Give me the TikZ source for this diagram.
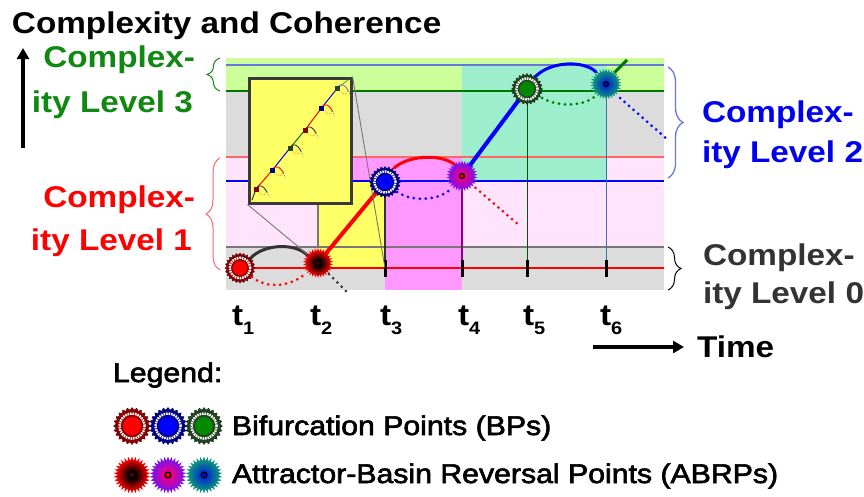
\documentclass[tikz,border=0pt]{standalone}
\usepackage{fontspec}
\setmainfont{Liberation Sans}
\newfontfamily\legfont{Liberation Sans}[FakeBold=2.2]
\usetikzlibrary{shapes.geometric,decorations.pathreplacing,arrows.meta}
\definecolor{lgreen}{HTML}{CCFF99}
\definecolor{mint}{HTML}{9CEECC}
\definecolor{lgray}{HTML}{DCDCDC}
\definecolor{lpink}{HTML}{FFE4FC}
\definecolor{magen}{HTML}{FF99FF}
\definecolor{yel}{HTML}{FFFF66}
\definecolor{dgreen}{HTML}{007700}
\definecolor{tgreen}{HTML}{118811}
\definecolor{tblue}{HTML}{0000EE}
\definecolor{tgray}{HTML}{333333}
\definecolor{lineblue}{HTML}{6677DD}
\definecolor{linered}{HTML}{FF6666}
\definecolor{linegray}{HTML}{777777}
\definecolor{arcgray}{HTML}{333333}
\definecolor{insetframe}{HTML}{3A3A3A}
\definecolor{vpurple}{HTML}{880088}
\definecolor{vgreen}{HTML}{005500}
\definecolor{vteal}{HTML}{3377AA}
\definecolor{bpdred}{HTML}{880000}
\definecolor{bpdblue}{HTML}{000088}
\definecolor{bpdgreen}{HTML}{224422}
\definecolor{bpgreen}{HTML}{008800}
\definecolor{abviolet}{HTML}{7711EE}
\definecolor{abmag}{HTML}{EE0088}
\definecolor{abteal}{HTML}{119977}
\definecolor{abblue}{HTML}{0033CC}
\definecolor{abdred}{HTML}{550000}
\colorlet{abin}{black}
\colorlet{about}{red}
\pgfdeclareradialshading[abin,about]{abshade}{\pgfpoint{0bp}{0bp}}{color(0bp)=(abin); color(5bp)=(abin); color(22bp)=(about); color(40bp)=(about); color(50bp)=(white); color(72bp)=(white)}
\newcommand{\bigtx}[1]{\scalebox{1.11}[1]{\fontsize{30}{30}\selectfont\bfseries #1}}
\newcommand{\subtx}[1]{\raisebox{-9pt}{\scalebox{1.11}[1]{\fontsize{18}{18}\selectfont\bfseries #1}}}
\newcommand{\legtx}[1]{\scalebox{1.12}[1]{\fontsize{27}{27}\legfont #1}}
\begin{document}
\begin{tikzpicture}[x=1pt,y=-1pt,
  txt/.style={inner sep=0pt, outer sep=0pt},
  bp/.style n args={3}{shape=star, star points=24, star point ratio=1.16, minimum size=#1pt, inner sep=0pt, fill=#2, draw=#2!60!black, line width=0.4pt,
     path picture={\draw[white, line width=2.4pt, dash pattern=on 1.6pt off 0.9pt] (path picture bounding box.center) circle[radius=0.34*#1pt];
                   \fill[#3, draw=#2, line width=0.8pt] (path picture bounding box.center) circle[radius=0.26*#1pt];}},
  abrp/.style n args={4}{shape=star, star points=30, star point ratio=1.3, minimum size=#1pt, inner sep=0pt,
     /utils/exec={\colorlet{abin}{#2}\colorlet{about}{#3}}, shading=abshade, shade,
     path picture={\fill[#4, draw=black, line width=1.3pt] (path picture bounding box.center) circle[radius=0.08*#1pt];}},
  solidarc/.style={line width=3pt, line cap=round},
  dotarc/.style={line width=3pt, line cap=round, dash pattern=on 0pt off 6pt},
  tick/.style={line width=3pt, black},
  brc/.style={decorate, decoration={brace, amplitude=#1}, line width=1pt},
]
\useasboundingbox (0,0) rectangle (864,496);
% backgrounds
\fill[lgray] (226,58) rectangle (664,290);
\fill[lgreen] (226,58) rectangle (664,91);
\fill[lpink] (226,157) rectangle (664,247);
\fill[magen] (318,157) rectangle (462,182);
\fill[magen] (385,182) rectangle (462,290);
\fill[yel] (318,182) rectangle (385,268);
\fill[mint] (462,65) rectangle (606,181);
% level lines
\draw[lineblue, line width=2pt] (226,65) -- (664,65);
\draw[dgreen, line width=2.5pt] (226,91) -- (664,91);
\draw[linered, line width=2pt] (226,157) -- (664,157);
\draw[blue, line width=2pt] (226,181) -- (664,181);
\draw[linegray, line width=2.5pt] (226,247) -- (664,247);
\draw[red, line width=2.5pt] (226,268) -- (664,268);
\draw[linegray, line width=1.5pt] (318,182) -- (318,247);
% point positions
\coordinate (P1) at (240,268);
\coordinate (P2) at (318,263);
\coordinate (P3) at (385,182);
\coordinate (P4) at (462,176);
\coordinate (P5) at (527,89);
\coordinate (P6) at (606,84);
\coordinate (B3) at (385,268);
\coordinate (B4) at (462,268);
\coordinate (B5) at (527,268);
\coordinate (B6) at (606,268);
% vertical drop lines and ticks
\draw[arcgray, line width=2pt] (P3) -- (B3);
\draw[vpurple, line width=2pt] (P4) -- (B4);
\draw[vgreen, line width=1pt] (P5) -- (B5);
\draw[vteal, line width=1pt] (P6) -- (B6);
\foreach \b in {B3,B4,B5,B6} \draw[tick] (\b) ++(0,-8) -- ++(0,17);
% trajectories
\draw[solidarc, arcgray] (250,259) .. controls (262,244) and (296,242) .. (308,256);
\draw[dotarc, red] (252,277) .. controls (268,290) and (292,286) .. (306,273);
\draw[dotarc, arcgray] (329,274) -- (346,291);
\draw[line width=4pt, red] (P2) -- (P3);
\draw[solidarc, red] (394,168) .. controls (410,154) and (445,154) .. (456,166);
\draw[dotarc, blue] (397,192) .. controls (415,203) and (440,200) .. (452,188);
\draw[line width=4pt, blue] (P4) -- (P5);
\draw[dotarc, red] (471,184) -- (520,226);
\draw[solidarc, blue] (535,77) .. controls (550,61) and (584,60) .. (596,72);
\draw[dotarc, dgreen] (542,98) .. controls (560,108) and (585,106) .. (597,95);
\draw[line width=3pt, dgreen] (614,73) -- (627,60);
\draw[dotarc, blue] (620,98) -- (668,140);
% inset
\node[draw=insetframe, line width=3pt, fill=yel, minimum width=102pt, minimum height=125pt, inner sep=0pt] (inset) at (300,140.5) {};
\draw[linegray, line width=0.9pt] (inset.south west) -- (307,254);
\draw[linegray, line width=0.9pt] (inset.north east) -- (B3);
\coordinate (A0) at (252,200);
\coordinate (A1) at (256,189);
\coordinate (A2) at (272.5,170);
\coordinate (A3) at (290,148);
\coordinate (A4) at (305,130);
\coordinate (A5) at (321.5,108);
\coordinate (A6) at (337.5,88);
\coordinate (A7) at (348,80);
\draw[arcgray, line width=1pt] (A0) -- (A1);
\draw[red, line width=1pt] (A1) -- (A2);
\draw[blue, line width=1pt] (A2) -- (A3);
\draw[dgreen, line width=1pt] (A3) -- (A4);
\draw[red, line width=1pt] (A4) -- (A5);
\draw[blue, line width=1pt] (A5) -- (A6);
\draw[dgreen!60, line width=1pt] (A6) -- (A7);
\foreach \a/\c in {A1/arcgray,A2/red,A3/arcgray,A4/arcgray,A5/red,A6/lineblue} {
  \draw[\c, line width=0.9pt] (\a) .. controls +(3,-6) and +(-3,-6) .. ++(11,3);
  \draw[orange, line width=0.9pt, dash pattern=on 1pt off 1.5pt] (\a) .. controls +(3,5) and +(-3,5) .. ++(11,3);
  \draw[lineblue, line width=0.8pt, dash pattern=on 1pt off 1.5pt] (\a) ++(11,3) -- ++(2,5);
}
\foreach \a/\c in {A1/bpdred,A2/bpdblue,A3/bpdgreen,A4/bpdred,A5/bpdblue,A6/bpdgreen}
  \fill[\c] (\a) ++(-2.5,-2.5) rectangle ++(5,5);
% bifurcation / reversal points
\node[bp={30}{bpdred}{red}] (p1) at (P1) {};
\node[abrp={30}{black}{red}{abdred}] (p2) at (P2) {};
\node[bp={31}{bpdblue}{blue}] (p3) at (P3) {};
\node[abrp={31}{abmag}{abviolet}{red}] (p4) at (P4) {};
\node[bp={31}{bpdgreen}{bpgreen}] (p5) at (P5) {};
\node[abrp={31}{abblue}{abteal}{blue}] (p6) at (P6) {};
% braces
\draw[brc=13pt, tgreen] (220,91) -- (220,58);
\draw[brc=14pt, linered] (220,270) -- (220,158);
\draw[brc=15pt, lineblue, line width=1.3pt] (668,67) -- (668,178);
\draw[brc=13pt, black] (668,247) -- (668,290);
% axes
\draw[-{Triangle[length=11pt,width=12pt]}, line width=4pt] (23,148) -- (23,48);
\draw[-{Triangle[length=11pt,width=12pt]}, line width=4pt] (593,347) -- (684,347);
% texts
\node[txt, anchor=base west] (title) at (12,33) {\bigtx{Complexity and Coherence}};
\node[txt, anchor=base east, text=tgreen] (l3a) at (195,67) {\bigtx{Complex-}};
\node[txt, anchor=base east, text=tgreen] (l3b) at (193,112) {\bigtx{ity Level 3}};
\node[txt, anchor=base east, text=red] (l1a) at (195,207) {\bigtx{Complex-}};
\node[txt, anchor=base east, text=red] (l1b) at (192,250) {\bigtx{ity Level 1}};
\node[txt, anchor=base west, text=tblue] (l2a) at (702,122) {\bigtx{Complex-}};
\node[txt, anchor=base west, text=tblue] (l2b) at (702,162) {\bigtx{ity Level 2}};
\node[txt, anchor=base west, text=tgray] (l0a) at (703,265) {\bigtx{Complex-}};
\node[txt, anchor=base west, text=tgray] (l0b) at (703,303) {\bigtx{ity Level 0}};
\node[txt, anchor=base west] (time) at (697,357) {\bigtx{Time}};
\node[txt, anchor=base west] (t1) at (232,325) {\bigtx{t}\subtx{1}};
\node[txt, anchor=base west] (t2) at (310,325) {\bigtx{t}\subtx{2}};
\node[txt, anchor=base west] (t3) at (380,325) {\bigtx{t}\subtx{3}};
\node[txt, anchor=base west] (t4) at (458,325) {\bigtx{t}\subtx{4}};
\node[txt, anchor=base west] (t5) at (523,325) {\bigtx{t}\subtx{5}};
\node[txt, anchor=base west] (t6) at (600,325) {\bigtx{t}\subtx{6}};
% legend
\node[txt, anchor=base west] (leg) at (113,382) {\legtx{Legend:}};
\node[bp={37}{bpdred}{red}] (lb1) at (132,426) {};
\node[bp={37}{bpdblue}{blue}] (lb2) at (168,426) {};
\node[bp={37}{bpdgreen}{bpgreen}] (lb3) at (204,426) {};
\node[abrp={37}{black}{red}{abdred}] (la1) at (132,475) {};
\node[abrp={37}{abmag}{abviolet}{red}] (la2) at (168,475) {};
\node[abrp={37}{abblue}{abteal}{blue}] (la3) at (204,475) {};
\node[txt, anchor=base west] (legbp) at (232,435) {\legtx{Bifurcation Points (BPs)}};
\node[txt, anchor=base west] (legab) at (232,483) {\legtx{Attractor-Basin Reversal Points (ABRPs)}};
\end{tikzpicture}
\end{document}
